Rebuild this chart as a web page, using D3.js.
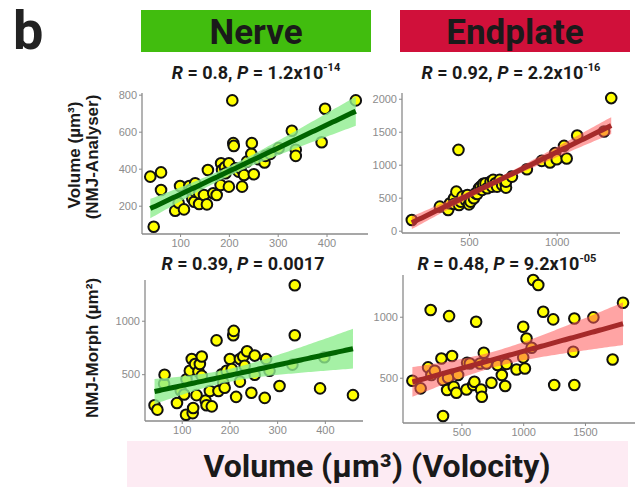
<!DOCTYPE html>
<html><head><meta charset="utf-8">
<script src="https://cdn.jsdelivr.net/npm/d3@7"></script>
<style>body{margin:0;background:#fff}svg{display:block}</style>
</head><body>
<svg id="c" width="640" height="489"></svg>
<script>
// ---------- DATA ----------
const nerveAnalyser = [[39,357],[46,86],[61,380],[61,285],[90,173],[97,216],[100,306],[108,180],[119,306],[122,285],[125,239],[129,221],[131,276],[131,321],[139,209],[139,267],[149,258],[155,207],[157,393],[168,267],[175,258],[183,312],[184,429],[186,393],[192,408],[193,375],[200,429],[200,303],[207,769],[209,538],[210,523],[214,402],[220,384],[224,402],[227,303],[231,366],[237,438],[246,480],[247,538],[251,370],[261,451],[273,433],[275,469],[285,480],[302,511],[329,605],[337,502],[337,469],[390,543],[397,724],[460,769]];
const endplateAnalyser = [[174,162],[334,365],[381,314],[392,415],[415,491],[415,405],[428,592],[440,1225],[443,390],[453,440],[462,516],[481,466],[491,542],[500,399],[509,491],[509,440],[528,491],[538,567],[547,557],[557,643],[566,668],[575,618],[581,709],[594,719],[604,643],[623,744],[632,668],[638,770],[651,719],[660,668],[675,770],[689,694],[708,719],[711,653],[711,744],[745,820],[830,932],[915,1058],[962,1033],[991,1175],[1000,1084],[1042,1286],[1057,1094],[1117,1443],[1270,1504],[1311,2010]];
const nerveMorph = [[43,209],[49,168],[63,411],[64,494],[90,231],[98,348],[105,310],[109,120],[110,453],[117,532],[121,642],[123,136],[124,184],[128,595],[131,304],[135,525],[138,595],[142,665],[142,484],[150,253],[152,209],[159,342],[163,199],[173,816],[177,342],[184,500],[187,421],[190,373],[194,532],[201,642],[205,547],[208,864],[209,905],[214,288],[222,642],[222,430],[229,665],[232,579],[237,715],[246,326],[253,674],[253,494],[274,278],[277,642],[284,532],[305,389],[332,589],[337,1332],[337,864],[390,367],[399,658],[459,304]];
const endplateMorph = [[103,475],[170,413],[230,585],[251,1055],[257,522],[284,557],[338,658],[351,481],[351,186],[384,399],[392,500],[400,1005],[424,678],[438,426],[459,377],[473,522],[541,404],[546,623],[568,617],[595,440],[605,467],[619,959],[651,617],[659,404],[665,344],[681,705],[703,617],[743,459],[792,604],[827,522],[854,432],[865,612],[946,568],[1000,918],[1000,667],[1014,576],[1027,822],[1068,746],[1081,1301],[1122,1260],[1162,1041],[1243,978],[1251,440],[1405,713],[1414,986],[1414,440],[1568,995],[1724,650],[1808,1115]];

const nerveTicksX = [100,200,300,400];
const endplateTicksX1 = [500,1000];
const endplateTicksX2 = [500,1000,1500];
const analyserNerveTicksY = [200,400,600,800];
const analyserEndplateTicksY = [0,500,1000,1500,2000];
const morphTicksY = [500,1000];

const titles = [
  {R:"0.8",  P:"1.2x10", e:"-14"},
  {R:"0.92", P:"2.2x10", e:"-16"},
  {R:"0.39", P:"0.0017", e:""},
  {R:"0.48", P:"9.2x10", e:"-05"}
];
const headers = ["Nerve","Endplate"];
const yLabels = ["Volume (µm³)","(NMJ-Analyser)","NMJ-Morph (µm²)"];
const xLabel = "Volume (µm³) (Volocity)";

// ---------- LAYOUT ----------
const svg = d3.select("#c");
const GREEN = {rib:"#8fee8f", ribOp:0.8, line:"#006400"};
const RED = {rib:"#ff5a5a", ribOp:0.55, line:"#a52a2a"};

const panels = [
  {data:nerveAnalyser, L:142,R:368,T:93,B:234, xd:[22,485], yd:[47,809], xt:nerveTicksX, yt:analyserNerveTicksY, c:GREEN, title:titles[0], tx:256, ty:79},
  {data:endplateAnalyser, L:402,R:620,T:93,B:233, xd:[118,1361], yd:[-35,2087], xt:endplateTicksX1, yt:analyserEndplateTicksY, c:RED, title:titles[1], tx:511, ty:79},
  {data:nerveMorph, L:145,R:363,T:280,B:421, xd:[23,480], yd:[62,1381], xt:nerveTicksX, yt:morphTicksY, c:GREEN, title:titles[2], tx:243, ty:270},
  {data:endplateMorph, L:403,R:635,T:275,B:423, xd:[27,1905], yd:[129,1342], xt:endplateTicksX2, yt:morphTicksY, c:RED, title:titles[3], tx:507, ty:270}
];

function fit(data){
  const n=data.length, mx=d3.mean(data,d=>d[0]), my=d3.mean(data,d=>d[1]);
  let sxx=0,sxy=0; data.forEach(d=>{sxx+=(d[0]-mx)**2; sxy+=(d[0]-mx)*(d[1]-my);});
  const b=sxy/sxx, a=my-b*mx;
  let sse=0; data.forEach(d=>{sse+=(d[1]-a-b*d[0])**2;});
  const s=Math.sqrt(sse/(n-2)), t=2.01;
  const [x0,x1]=d3.extent(data,d=>d[0]);
  const pts=d3.range(0,81).map(i=>{const x=x0+(x1-x0)*i/80; const y=a+b*x; const se=s*Math.sqrt(1/n+(x-mx)**2/sxx); return {x,y,lo:y-t*se,hi:y+t*se};});
  return pts;
}

panels.forEach(p=>{
  const x=d3.scaleLinear().domain(p.xd).range([p.L,p.R]);
  const y=d3.scaleLinear().domain(p.yd).range([p.B,p.T]);
  const g=svg.append("g");
  const fmt=d3.format("d");
  const ax=g.append("g").attr("transform",`translate(0,${p.B})`).call(d3.axisBottom(x).tickValues(p.xt).tickFormat(fmt).tickSize(3).tickPadding(2));
  const ay=g.append("g").attr("transform",`translate(${p.L},0)`).call(d3.axisLeft(y).tickValues(p.yt).tickFormat(fmt).tickSize(3).tickPadding(2));
  [ax,ay].forEach(a=>{
    a.select(".domain").attr("stroke","#8a8a8a").attr("stroke-width",1.3);
    a.selectAll(".tick line").attr("stroke","#8a8a8a").attr("stroke-width",1);
    a.selectAll(".tick text").attr("fill","#8c8c8c").attr("font-family","Liberation Sans, Arial, sans-serif").attr("font-size",11);
  });
  ax.select(".domain").attr("d",`M${p.L},0H${p.R}`);
  ay.select(".domain").attr("d",`M0,${p.T}V${p.B}`);
  g.append("g").selectAll("circle").data(p.data).join("circle")
    .attr("cx",d=>x(d[0])).attr("cy",d=>y(d[1])).attr("r",5.3)
    .attr("fill","#ffff00").attr("stroke","#111").attr("stroke-width",2);
  const f=fit(p.data);
  g.append("path").datum(f).attr("fill",p.c.rib).attr("fill-opacity",p.c.ribOp)
    .attr("d",d3.area().x(d=>x(d.x)).y0(d=>y(d.lo)).y1(d=>y(d.hi)));
  g.append("path").datum(f).attr("fill","none").attr("stroke",p.c.line).attr("stroke-width",5)
    .attr("d",d3.line().x(d=>x(d.x)).y(d=>y(d.y)));
  const t=svg.append("text").attr("x",p.tx).attr("y",p.ty).attr("text-anchor","middle")
    .attr("font-family","Roboto, sans-serif").attr("font-weight","bold").attr("font-size",18).attr("fill","#1a1a1a");
  t.append("tspan").attr("font-style","italic").text("R");
  t.append("tspan").text(" = "+p.title.R+", ");
  t.append("tspan").attr("font-style","italic").text("P");
  t.append("tspan").text(" = "+p.title.P);
  if(p.title.e) t.append("tspan").attr("font-size",11).attr("dy",-8).text(p.title.e);
});

const hdr=[{x0:141,x1:371,fill:"#41bd0e"},{x0:400,x1:630,fill:"#d0103a"}];
hdr.forEach((h,i)=>{
  svg.append("rect").attr("x",h.x0).attr("y",10).attr("width",h.x1-h.x0).attr("height",42).attr("fill",h.fill);
  svg.append("text").attr("x",(h.x0+h.x1)/2).attr("y",44).attr("text-anchor","middle")
    .attr("font-family","Roboto, sans-serif").attr("font-weight","bold").attr("font-size",35).attr("fill","#1a1a1a").text(headers[i]);
});
svg.append("text").attr("x",13).attr("y",49).attr("font-family","Roboto, sans-serif").attr("font-weight","bold").attr("font-size",54).attr("fill","#222").text("b");

[[80,155,0],[98,157,1],[98,348,2]].forEach(([xx,yy,i])=>{
  svg.append("text").attr("transform",`translate(${xx},${yy}) rotate(-90)`).attr("text-anchor","middle")
    .attr("font-family","Liberation Sans, Arial, sans-serif").attr("font-weight","bold").attr("font-size",17).attr("fill","#1a1a1a").text(yLabels[i]);
});

svg.append("rect").attr("x",127).attr("y",441).attr("width",501).attr("height",46).attr("fill","#fdebf3");
svg.append("text").attr("x",377).attr("y",477).attr("text-anchor","middle")
  .attr("font-family","Roboto, sans-serif").attr("font-weight","bold").attr("font-size",32).attr("fill","#1a1a1a").text(xLabel);
</script>
</body></html>
